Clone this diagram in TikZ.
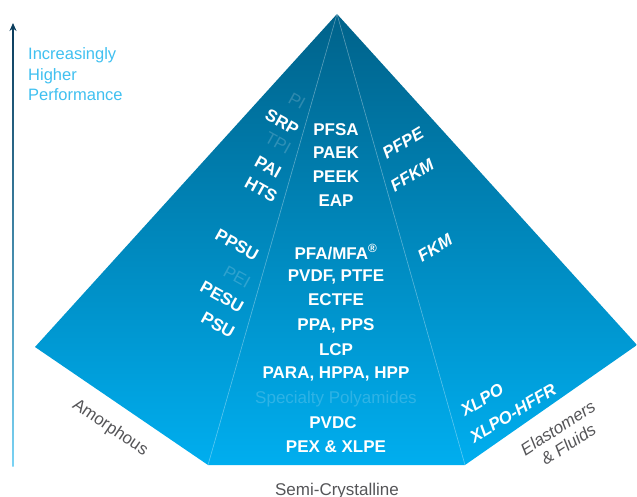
\documentclass[tikz,border=0pt]{standalone}
\usepackage{fontspec}
\setmainfont{Liberation Sans}
\usetikzlibrary{arrows.meta}
\definecolor{pyrtop}{RGB}{0,98,138}
\definecolor{pyrbot}{RGB}{0,174,239}
\definecolor{perfblue}{RGB}{64,192,240}
\definecolor{arrownavy}{RGB}{12,62,94}
\definecolor{labelgray}{RGB}{85,85,88}
\tikzstyle{mid} = [font=\fontsize{17}{20}\selectfont\bfseries, text=white, inner sep=0pt]
\tikzstyle{leftface} = [mid, rotate=-29]
\tikzstyle{rightface} = [mid, rotate=31, font=\fontsize{17}{20}\selectfont\bfseries\itshape]
\tikzstyle{faded} = [font=\fontsize{17}{20}\selectfont, text=white, text opacity=0.18, inner sep=0pt]
\tikzstyle{ridge} = [white, opacity=0.35, line width=0.6pt]
\tikzstyle{category} = [font=\fontsize{17}{20}\selectfont, text=labelgray, inner sep=0pt]
\begin{document}
\begin{tikzpicture}[x=1pt,y=-1pt]
\useasboundingbox (0,0) rectangle (637,497);

% pyramid
\coordinate (apex) at (337,14);
\coordinate (lcorner) at (35,347);
\coordinate (blcorner) at (208,465);
\coordinate (brcorner) at (465,465);
\coordinate (rcorner) at (637,345);
\shade[top color=pyrtop, bottom color=pyrbot] (apex) -- (lcorner) -- (blcorner) -- (brcorner) -- (rcorner) -- cycle;
\draw[ridge] (apex) -- (blcorner);
\draw[ridge] (apex) -- (brcorner);

% performance arrow
\coordinate (arrowbot) at (13,466);
\coordinate (arrowtop) at (13,23);
\shade[top color=arrownavy, bottom color=perfblue!70] (12.3,30) rectangle (13.7,466);
\draw[arrownavy, line width=1.4pt, -{Stealth[length=8pt,width=7pt]}] (13,40) -- (arrowtop);
\node[font=\fontsize{16.5}{20.5}\selectfont, text=perfblue, align=left, anchor=north west, inner sep=0pt] (perf) at (28,47.5) {Increasingly\\Higher\\Performance};

% amorphous face
\node[faded, rotate=-29] (pi) at (297,101) {PI};
\node[leftface] (srp) at (282,122) {SRP};
\node[faded, rotate=-29] (tpi) at (278,143) {TPI};
\node[leftface] (pai) at (268,167) {PAI};
\node[leftface] (hts) at (261,190) {HTS};
\node[leftface] (ppsu) at (237,245) {PPSU};
\node[faded, rotate=-29] (pei) at (237,277) {PEI};
\node[leftface] (pesu) at (222,297) {PESU};
\node[leftface] (psu) at (218,325) {PSU};

% semi-crystalline face
\node[mid] (pfsa) at (336,130) {PFSA};
\node[mid] (paek) at (336,153) {PAEK};
\node[mid] (peek) at (336,177) {PEEK};
\node[mid] (eap) at (336,201) {EAP};
\node[mid] (pfa) at (336,252) {PFA/MFA\textsuperscript{\textregistered}};
\node[mid] (pvdf) at (336,277) {PVDF, PTFE};
\node[mid] (ectfe) at (336,300) {ECTFE};
\node[mid] (ppa) at (336,326) {PPA, PPS};
\node[mid] (lcp) at (336,350) {LCP};
\node[mid] (para) at (336,374) {PARA, HPPA, HPP};
\node[faded] (spa) at (336,399) {Specialty Polyamides};
\node[mid] (pvdc) at (333,423) {PVDC};
\node[mid] (pex) at (336,447) {PEX \& XLPE};

% elastomer face
\node[rightface] (pfpe) at (403,143) {PFPE};
\node[rightface] (ffkm) at (412,175) {FFKM};
\node[rightface] (fkm) at (435,248) {FKM};
\node[rightface] (xlpo) at (482,400) {XLPO};
\node[rightface] (xlpohffr) at (513,413) {XLPO-HFFR};

% categories
\node[category, rotate=-34] (amorph) at (110,428) {Amorphous};
\node[category, rotate=33, align=center, font=\fontsize{17}{19.5}\selectfont\itshape] (elast) at (563,436) {Elastomers\\\& Fluids};
\node[category, anchor=base] (semi) at (337,495) {Semi-Crystalline};

\end{tikzpicture}
\end{document}
